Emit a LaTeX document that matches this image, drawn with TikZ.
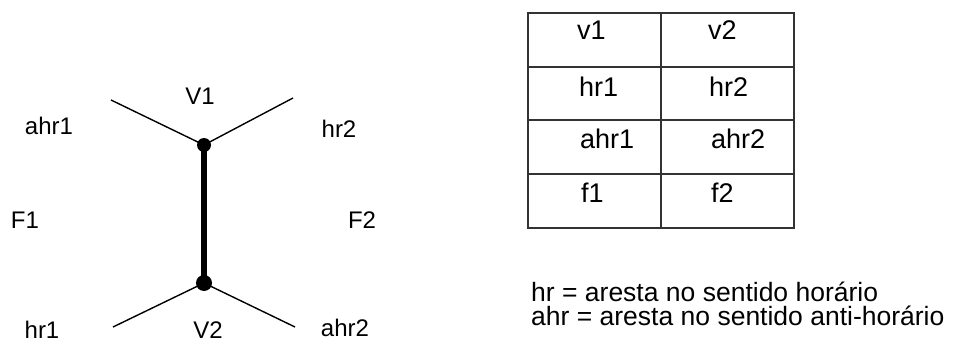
\documentclass[tikz,border=0pt]{standalone}
\usepackage{fontspec}
\setmainfont{Liberation Sans}

\tikzset{
  vertex/.style={circle, fill=black, inner sep=0pt, minimum size=14pt},
  lbl/.style={font=\fontsize{24}{28}\selectfont, inner sep=0pt, anchor=base},
  cell/.style={font=\fontsize{27}{30}\selectfont, inner sep=0pt, anchor=base west},
  note/.style={font=\fontsize{26.5}{30}\selectfont, inner sep=0pt, anchor=base west},
}

\begin{document}
\begin{tikzpicture}[x=1pt, y=-1pt]
\useasboundingbox (0,0) rectangle (963,342);

%% the edge and its two vertices
\node[vertex] (v1) at (204,145) {};
\node[vertex, minimum size=16pt] (v2) at (204,283) {};
\draw[line width=5.5pt] (v1.center) -- (v2.center);

%% free ends of the wings
\coordinate (ul) at (111,100);
\coordinate (ur) at (293,98);
\coordinate (ll) at (113,327);
\coordinate (lr) at (295,327);
\draw[line width=1.4pt] (ul) -- (v1.center) -- (ur);
\draw[line width=1.4pt] (ll) -- (v2.center) -- (lr);

%% labels
\node[lbl] (tV1) at (200,105) {V1};
\node[lbl] (tV2) at (208,338) {V2};
\node[lbl] (tahr1) at (49,135) {ahr1};
\node[lbl] (thr2) at (339,137) {hr2};
\node[lbl] (tF1) at (25,228) {F1};
\node[lbl] (tF2) at (362,228) {F2};
\node[lbl] (thr1) at (42,338) {hr1};
\node[lbl] (tahr2) at (345,336) {ahr2};

%% table
\draw[line width=1.6pt, black!80] (528,13) rectangle (794,228);
\draw[line width=1.6pt, black!80] (661,13) -- (661,228);
\foreach \y in {67,120,174}
  \draw[line width=1.6pt, black!80] (528,\y) -- (794,\y);

\node[cell] (c11) at (577,40) {v1};
\node[cell] (c12) at (708,40) {v2};
\node[cell] (c21) at (579,97) {hr1};
\node[cell] (c22) at (709,97) {hr2};
\node[cell] (c31) at (580,148) {ahr1};
\node[cell] (c32) at (711,148) {ahr2};
\node[cell] (c41) at (581,202) {f1};
\node[cell] (c42) at (711,202) {f2};

%% legend
\node[note] (hr) at (531,301) {hr = aresta no sentido horário};
\node[note] (ahr) at (531,325) {ahr = aresta no sentido anti-horário};

\end{tikzpicture}
\end{document}
